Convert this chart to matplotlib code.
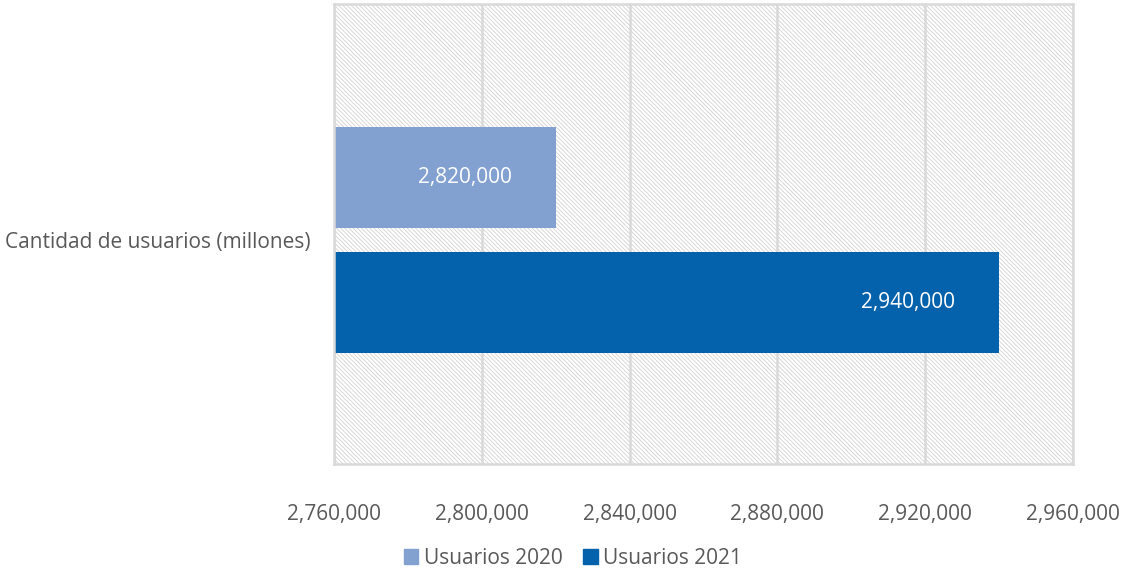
import matplotlib.pyplot as plt
from matplotlib.patches import Rectangle, Patch
from matplotlib.ticker import FuncFormatter

# data
category = 'Cantidad de usuarios (millones)'
series = ['Usuarios 2020', 'Usuarios 2021']
values = [2820000, 2940000]
colors = ['#82A0D0', '#0462AC']

plt.rcParams['font.family'] = ['Open Sans', 'DejaVu Sans']
plt.rcParams['hatch.linewidth'] = 0.6

fig = plt.figure(figsize=(11.21, 5.72), dpi=100)
ax = fig.add_axes([334/1121, 1-464/572, 739/1121, 460/572])

# light hatched plot area background
ax.add_patch(Rectangle((0, 0), 1, 1, transform=ax.transAxes, facecolor='white',
                       edgecolor='#D2D2D2', hatch='\\' * 8, lw=0, zorder=0.2))

ypos = [0.272, -0.272]
bh = 0.44
fs = 15
for v, y, c in zip(values, ypos, colors):
    ax.barh(y, v - 2760000, left=2760000, height=bh, color=c, zorder=2)
    ax.text(v - 44*200000/739, y, f'{v:,}', color='white', ha='right', va='center',
            fontsize=fs, zorder=3)

ax.set_xlim(2760000, 2960000)
ax.set_ylim(-0.974, 1.026)
ax.set_xticks(range(2760000, 2960001, 40000))
ax.xaxis.set_major_formatter(FuncFormatter(lambda x, p: f'{int(x):,}'))
ax.set_yticks([0])
ax.set_yticklabels([category])

ax.set_axisbelow(True)
ax.grid(axis='x', color='#D9D9D9', lw=1.8)
for s in ax.spines.values():
    s.set_color('#D9D9D9')
    s.set_linewidth(1.8)
ax.tick_params(length=0, labelsize=fs, labelcolor='#595959')
ax.tick_params(axis='x', pad=29)
ax.tick_params(axis='y', pad=17)

handles = [Patch(color=c, label=s) for s, c in zip(series, colors)]
fig.legend(handles=handles, loc='center', bbox_to_anchor=(0.511, 0.024), ncol=2,
           frameon=False, fontsize=fs, labelcolor='#595959', handlelength=0.7,
           handleheight=0.7, handletextpad=0.25, columnspacing=1.0)

plt.savefig('out.png', dpi=100)
